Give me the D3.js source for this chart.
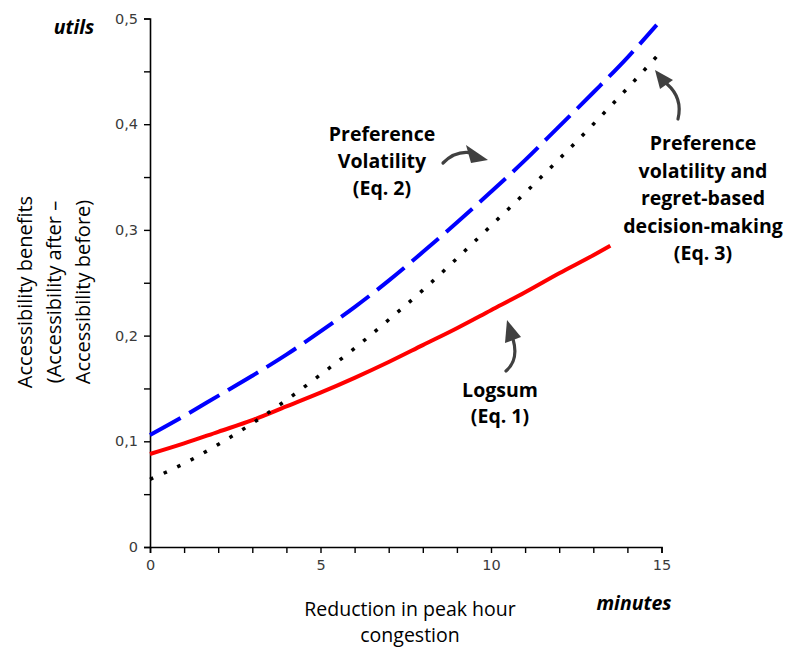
<!DOCTYPE html>
<html><head><meta charset="utf-8">
<script src="https://cdn.jsdelivr.net/npm/d3@7"></script>
<style>
html,body{margin:0;padding:0;background:#fff;}
svg{display:block;}
</style></head>
<body>
<svg id="chart" width="786" height="655"></svg>
<script>
// ---- data ----
const xLogsum = [0,1,2,3,4,5,6,7,8,9,10,11,12,13,13.5];
const yLogsum = [0.088,0.098,0.109,0.120,0.133,0.146,0.160,0.175,0.191,0.207,0.224,0.241,0.259,0.276,0.285];
const xVolatility = [0,1,2,3,4,5,6,7,8,9,10,11,12,13,14,14.86];
const yVolatility = [0.106,0.124,0.143,0.162,0.182,0.204,0.227,0.252,0.279,0.307,0.336,0.366,0.398,0.430,0.463,0.494];
const xRegret = [0,1,2,3,4,5,6,7,8,9,10,11,12,13,14,15];
const yRegret = [0.064,0.079,0.097,0.117,0.139,0.163,0.188,0.215,0.243,0.273,0.304,0.335,0.367,0.400,0.434,0.469];
const xTicks = [0,1,2,3,4,5,6,7,8,9,10,11,12,13,14,15];
const xLabelled = [0,5,10,15];
const yTicks = [0,0.05,0.1,0.15,0.2,0.25,0.3,0.35,0.4,0.45,0.5];
const yLabelled = [0,0.1,0.2,0.3,0.4,0.5];
const yTitleLines = ["Accessibility benefits","(Accessibility after \u2013","Accessibility before)"];
const xTitleLines = ["Reduction in peak hour","congestion"];
const labelEq2 = ["Preference","Volatility","(Eq. 2)"];
const labelEq1 = ["Logsum","(Eq. 1)"];
const labelEq3 = ["Preference","volatility and","regret-based","decision-making","(Eq. 3)"];

const svg = d3.select("#chart");
const x = d3.scaleLinear().domain([0,15]).range([150,661.5]);
const y = d3.scaleLinear().domain([0,0.5]).range([547,18.5]);
const loc = d3.formatLocale({decimal:",",thousands:".",grouping:[3],currency:["",""]});
const fmt = loc.format("~g");

const tickFont = "'DejaVu Sans', sans-serif";
const textFont = "'Open Sans', sans-serif";

// axes
const xAxis = d3.axisBottom(x).tickValues(xTicks).tickSize(6).tickPadding(7)
  .tickFormat(d => xLabelled.includes(d) ? fmt(d) : "");
const yAxis = d3.axisLeft(y).tickValues(yTicks).tickSize(6).tickPadding(6)
  .tickFormat(d => yLabelled.some(v => Math.abs(v-d)<1e-9) ? fmt(d) : "");

const gx = svg.append("g").attr("transform","translate(0,547)").call(xAxis);
const gy = svg.append("g").attr("transform","translate(150,0)").call(yAxis);
[gx,gy].forEach(g=>{
  g.select(".domain").attr("stroke","#000").attr("stroke-width",1.6);
  g.selectAll(".tick line").attr("stroke","#000").attr("stroke-width",1.4);
  g.selectAll(".tick text").attr("font-family",tickFont).attr("font-size",14.5).attr("fill","#3a3a3a");
});

// lines
const line = d3.line().curve(d3.curveMonotoneX);
function pts(xs,ys){return xs.map((v,i)=>[x(v),y(ys[i])]);}
svg.append("path").attr("d",line(pts(xLogsum,yLogsum)))
  .attr("fill","none").attr("stroke","#ff0000").attr("stroke-width",4);
svg.append("path").attr("d",line(pts(xVolatility,yVolatility)))
  .attr("fill","none").attr("stroke","#0000ff").attr("stroke-width",4)
  .attr("stroke-dasharray","35,10");
svg.append("path").attr("d",line(pts(xRegret,yRegret)))
  .attr("fill","none").attr("stroke","#000").attr("stroke-width",3.5)
  .attr("stroke-dasharray","3.5,11.5");

// text helpers
function block(lines, cx, y0, dy, opts){
  const t = svg.append("text").attr("font-family",textFont).attr("font-size",opts.size)
    .attr("font-weight",opts.weight||"normal").attr("font-style",opts.style||"normal")
    .attr("fill","#000").attr("text-anchor","middle");
  lines.forEach((l,i)=>t.append("tspan").attr("x",cx).attr("y",y0+i*dy).text(l));
  return t;
}
block(labelEq2, 382, 141, 27, {size:19.5, weight:"bold"});
block(labelEq1, 500, 397, 26, {size:19.5, weight:"bold"});
block(labelEq3, 703, 150, 27.5, {size:19.5, weight:"bold"});
block(xTitleLines, 410, 616, 26, {size:19.5});

svg.append("text").attr("x",74).attr("y",34).attr("text-anchor","middle")
  .attr("font-family",textFont).attr("font-size",19.5).attr("font-weight","bold")
  .attr("font-style","italic").text("utils");
svg.append("text").attr("x",634).attr("y",610).attr("text-anchor","middle")
  .attr("font-family",textFont).attr("font-size",19.5).attr("font-weight","bold")
  .attr("font-style","italic").text("minutes");

// y title (rotated)
const yt = svg.append("text").attr("transform","translate(0,292) rotate(-90)")
  .attr("font-family",textFont).attr("font-size",20).attr("text-anchor","middle").attr("fill","#000");
yTitleLines.forEach((l,i)=>yt.append("tspan").attr("x",0).attr("y",32+i*29).text(l));

// arrows
const gray = "#404040";
function arrow(shaft, head){
  svg.append("path").attr("d",shaft).attr("fill","none").attr("stroke",gray).attr("stroke-width",3.2).attr("stroke-linecap","round");
  svg.append("path").attr("d","M"+head.map(p=>p.join(",")).join("L")+"Z").attr("fill",gray);
}
arrow("M443,163 Q456,150 472,153", [[466,145],[488,160],[471,163]]);
arrow("M506,371 Q519,360 513,339", [[507,320],[505,343],[521,337]]);
arrow("M678,119 Q683,98 667,84", [[655,70],[660,89],[673,80]]);
</script>
</body></html>
